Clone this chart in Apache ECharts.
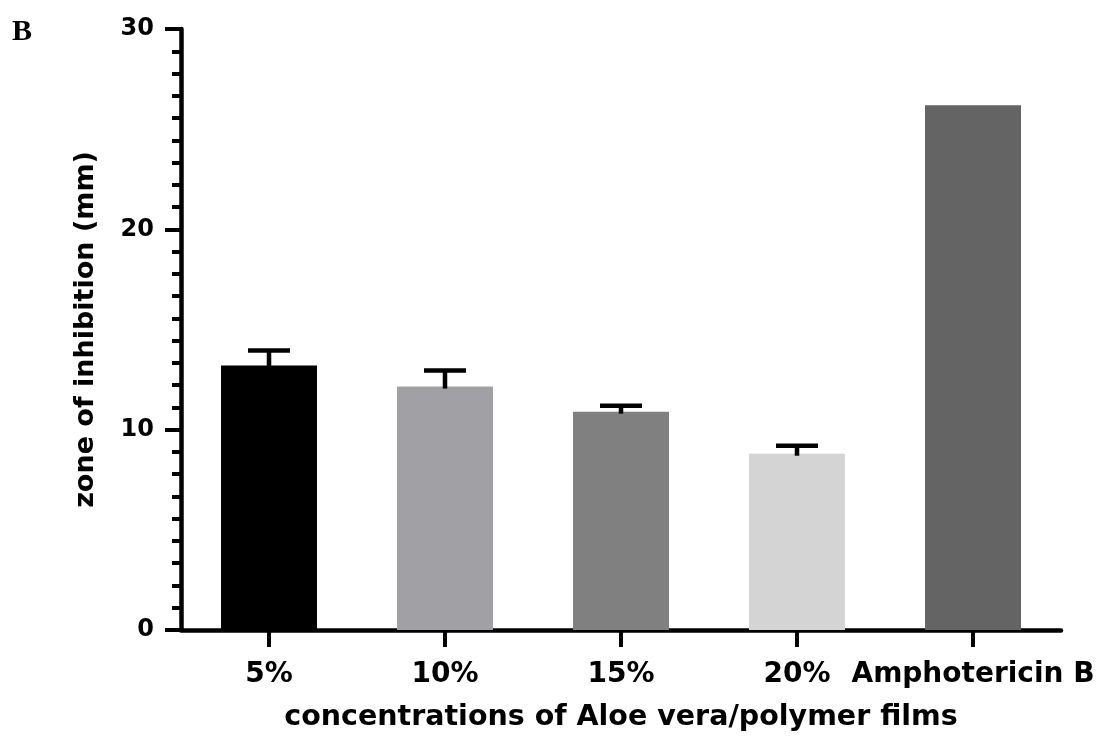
<!DOCTYPE html>
<html>
<head>
<meta charset="utf-8">
<script src="https://cdn.jsdelivr.net/npm/echarts@6/dist/echarts.min.js"></script>
<style>
html,body{margin:0;padding:0;background:#fff;}
#chart{width:1103px;height:745px;}
</style>
</head>
<body>
<div id="chart"></div>
<script>
const categories = ['5%', '10%', '15%', '20%', 'Amphotericin B'];
const means = [13.2, 12.15, 10.9, 8.8, 26.2];
const errors = [0.75, 0.8, 0.3, 0.4, null];
const barColors = ['#000000', '#a1a0a5', '#808080', '#d4d4d4', '#646464'];
const yTicks = { min: 0, max: 30, interval: 10 };

const FONT = '"DejaVu Sans", "Liberation Sans", Arial, sans-serif';
const chart = echarts.init(document.getElementById('chart'), null, { renderer: 'canvas' });

const errData = categories.map((c, i) => [i, means[i], errors[i]]);

chart.setOption({
  backgroundColor: '#ffffff',
  animation: false,
  grid: { left: 181, right: 42, top: 29, bottom: 115, containLabel: false },
  graphic: [{
    type: 'text',
    left: 12,
    top: 17,
    style: { text: 'B', font: 'bold 30px "Liberation Serif", "Times New Roman", serif', fill: '#000' }
  }],
  xAxis: {
    type: 'category',
    data: categories,
    name: 'concentrations of Aloe vera/polymer films',
    nameLocation: 'middle',
    nameGap: 73,
    nameTextStyle: { fontFamily: FONT, fontWeight: 'bold', fontSize: 28.5, color: '#000' },
    axisLine: { show: true, lineStyle: { color: '#000', width: 4.5 } },
    axisTick: { show: true, alignWithLabel: true, length: 17, lineStyle: { color: '#000', width: 4 } },
    axisLabel: { interval: 0, fontFamily: FONT, fontWeight: 'bold', fontSize: 28, color: '#000', margin: 31 }
  },
  yAxis: {
    type: 'value',
    min: yTicks.min,
    max: yTicks.max,
    interval: yTicks.interval,
    name: 'zone of inhibition (mm)',
    nameLocation: 'middle',
    nameGap: 82,
    nameTextStyle: { fontFamily: FONT, fontWeight: 'bold', fontSize: 27, color: '#000' },
    axisLine: { show: true, lineStyle: { color: '#000', width: 4.5 } },
    axisTick: { show: true, length: 16, lineStyle: { color: '#000', width: 4 } },
    minorTick: { show: true, splitNumber: 9, length: 9, lineStyle: { color: '#000', width: 4 } },
    splitLine: { show: false },
    axisLabel: { fontFamily: FONT, fontWeight: 'bold', fontSize: 24, color: '#000', margin: 27 }
  },
  series: [
    {
      type: 'bar',
      barWidth: 96,
      data: means.map((v, i) => ({ value: v, itemStyle: { color: barColors[i] } })),
      z: 2
    },
    {
      type: 'custom',
      z: 3,
      data: errData,
      renderItem: function (params, api) {
        const err = api.value(2);
        if (err === null || err === undefined || isNaN(err)) return null;
        const x = api.value(0);
        const m = api.value(1);
        const base = api.coord([x, m]);
        const top = api.coord([x, m + err]);
        const half = 21;
        return {
          type: 'group',
          children: [
            { type: 'line', shape: { x1: base[0], y1: base[1] + 2, x2: top[0], y2: top[1] }, style: { stroke: '#000', lineWidth: 4.5 } },
            { type: 'line', shape: { x1: top[0] - half, y1: top[1], x2: top[0] + half, y2: top[1] }, style: { stroke: '#000', lineWidth: 4.5 } }
          ]
        };
      }
    }
  ]
});
</script>
</body>
</html>
